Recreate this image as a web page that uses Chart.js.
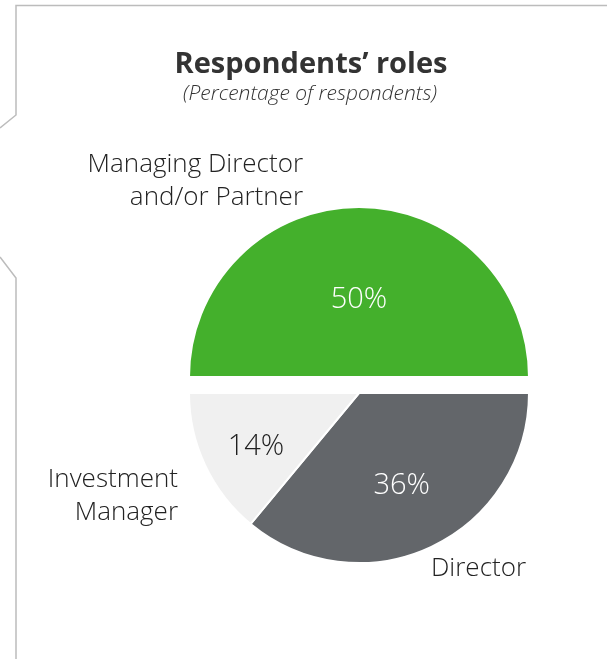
<!DOCTYPE html>
<html>
<head>
<meta charset="utf-8">
<script src="https://cdn.jsdelivr.net/npm/chart.js@4/dist/chart.umd.min.js"></script>
<style>
  html, body { margin: 0; padding: 0; background: #ffffff; }
  #wrap { width: 607px; height: 659px; position: relative; }
</style>
</head>
<body>
<div id="wrap"><canvas id="roles" width="607" height="659"></canvas></div>
<script>
// Survey data: share of respondents by role
const roles = ['Managing Director and/or Partner', 'Director', 'Investment Manager'];
const roleLines = [['Managing Director', 'and/or Partner'], ['Director'], ['Investment', 'Manager']];
const shares = [50, 36, 14];

const chartTitle = 'Respondents\u2019 roles';
const chartSubtitle = '(Percentage of respondents)';

// Styling
const sliceColours = ['#44b02c', '#63666a', '#f0f0f0'];
const valueColours = ['#ffffff', '#ffffff', '#1e1e1e'];
const FONT = '"Open Sans", "Noto Sans", sans-serif';
const explodeGap = 16;                 // first slice pulled out from the centre
const valueRadius = [0.47, 0.59, 0.67]; // value label distance, as share of radius
const valueSize = 29;
const nameSize = 26;

// Where each role name sits (baseline of first line), relative to the pie centre
const namePlacement = [
  { dx: -56, dy: -221, align: 'right' },
  { dx: 72,  dy: 183,  align: 'left' },
  { dx: -181, dy: 94,  align: 'right' }
];

// Page frame: thin grey rule with notched left edge
const framePlugin = {
  id: 'frame',
  beforeDraw(chart) {
    const ctx = chart.ctx;
    ctx.save();
    ctx.strokeStyle = '#bcbcbc';
    ctx.lineWidth = 1.5;
    ctx.beginPath();
    ctx.moveTo(0, 128);
    ctx.lineTo(16, 115);
    ctx.lineTo(16, 5.5);
    ctx.lineTo(607, 5.5);
    ctx.moveTo(0, 257);
    ctx.lineTo(16, 278);
    ctx.lineTo(16, 659);
    ctx.stroke();
    ctx.restore();
  }
};

// Headline and subheading
const headingPlugin = {
  id: 'heading',
  afterDraw(chart) {
    const ctx = chart.ctx;
    ctx.save();
    ctx.textAlign = 'center';
    ctx.textBaseline = 'alphabetic';
    ctx.fillStyle = '#333333';
    ctx.font = 'bold 29px ' + FONT;
    ctx.fillText(chartTitle, 311, 73);
    ctx.font = 'italic 300 21px ' + FONT;
    ctx.fillText(chartSubtitle, 310, 100);
    ctx.restore();
  }
};

// Pull the first slice outward along its mid-angle
const explodePlugin = {
  id: 'explode',
  afterDatasetUpdate(chart, args) {
    const arc = chart.getDatasetMeta(args.index).data[0];
    if (!arc) return;
    const mid = (arc.startAngle + arc.endAngle) / 2;
    arc.x += Math.cos(mid) * explodeGap;
    arc.y += Math.sin(mid) * explodeGap;
  }
};

// Percent values inside the slices and role names outside
const sliceLabelPlugin = {
  id: 'sliceLabels',
  afterDatasetsDraw(chart) {
    const ctx = chart.ctx;
    const meta = chart.getDatasetMeta(0);
    const values = chart.data.datasets[0].data;
    const cx = (chart.chartArea.left + chart.chartArea.right) / 2;
    const cy = (chart.chartArea.top + chart.chartArea.bottom) / 2;
    ctx.save();
    meta.data.forEach((arc, i) => {
      const mid = (arc.startAngle + arc.endAngle) / 2;
      const r = arc.outerRadius * valueRadius[i];
      ctx.font = '300 ' + valueSize + 'px ' + FONT;
      ctx.fillStyle = valueColours[i];
      ctx.textAlign = 'center';
      ctx.textBaseline = 'alphabetic';
      // centre the digits vertically on the anchor point
      ctx.fillText(values[i] + '%', arc.x + Math.cos(mid) * r,
                   arc.y + Math.sin(mid) * r + valueSize * 0.36 + (i === 2 ? 3 : 0));

      const place = namePlacement[i];
      ctx.font = '300 ' + nameSize + 'px ' + FONT;
      ctx.fillStyle = '#222222';
      ctx.textAlign = place.align;
      chart.data.labels[i].forEach((line, k) => {
        ctx.fillText(line, cx + place.dx, cy + place.dy + k * 33);
      });
    });
    ctx.restore();
  }
};

new Chart(document.getElementById('roles'), {
  type: 'pie',
  data: {
    labels: roleLines,
    datasets: [{
      label: 'Respondents',
      data: shares,
      backgroundColor: sliceColours,
      borderColor: '#ffffff',
      borderWidth: 2
    }]
  },
  options: {
    responsive: false,
    animation: false,
    devicePixelRatio: 1,
    rotation: -90,
    radius: 170,
    layout: { padding: { left: 150, right: 39, top: 187, bottom: 60 } },
    plugins: {
      legend: { display: false },
      title: { display: false },
      tooltip: { enabled: false }
    },
    events: []
  },
  plugins: [framePlugin, explodePlugin, sliceLabelPlugin, headingPlugin]
});
</script>
</body>
</html>
